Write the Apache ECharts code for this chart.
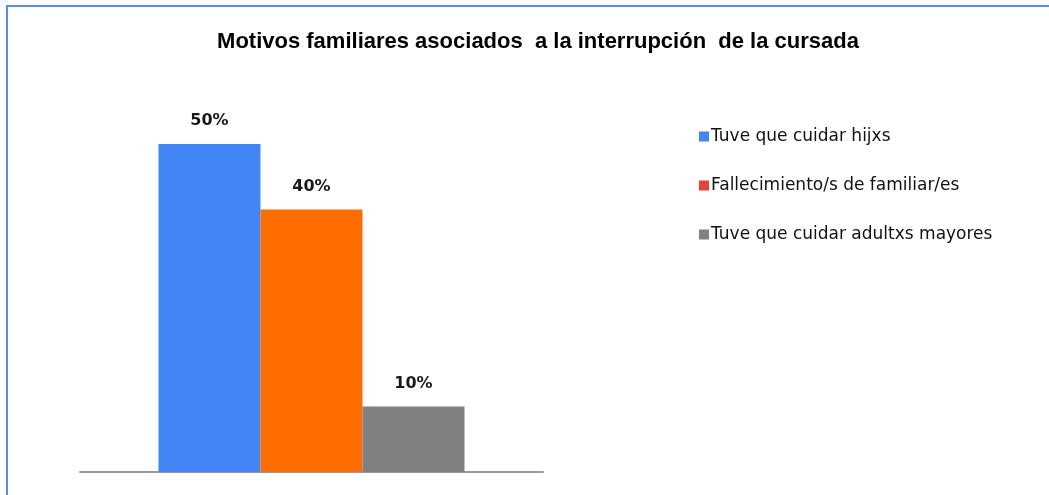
<!DOCTYPE html>
<html>
<head>
<meta charset="utf-8">
<script src="https://cdn.jsdelivr.net/npm/echarts@6/dist/echarts.min.js"></script>
<style>
  html, body { margin: 0; padding: 0; background: #fff; }
  #main { width: 1049px; height: 495px; }
</style>
</head>
<body>
<div id="main"></div>
<script>
// datos del gráfico
var categorias = ['Motivos'];
var motivos = ['Tuve que cuidar hijxs', 'Fallecimiento/s de familiar/es', 'Tuve que cuidar adultxs mayores'];
var porcentajes = [50, 40, 10];
var coloresBarra = ['#4285F4', '#FF6D00', '#808080'];
var coloresLeyenda = ['#4285F4', '#EA4335', '#808080'];

var chart = echarts.init(document.getElementById('main'));

var series = motivos.map(function (nombre, i) {
    return {
        name: nombre,
        type: 'bar',
        barWidth: 102,
        barGap: '0%',
        data: [porcentajes[i]],
        itemStyle: { color: coloresBarra[i] },
        label: {
            show: true,
            position: 'top',
            distance: 15,
            formatter: '{c}%',
            fontFamily: 'DejaVu Sans',
            fontWeight: 'bold',
            fontSize: 16,
            color: '#1a1a1a'
        }
    };
});

var option = {
    animation: false,
    title: {
        text: 'Motivos familiares asociados  a la interrupción  de la cursada',
        left: 533,
        textAlign: 'center',
        top: 26,
        textStyle: {
            fontFamily: 'Liberation Sans',
            fontWeight: 'bold',
            fontSize: 22,
            color: '#000'
        }
    },
    legend: {
        orient: 'vertical',
        left: 694,
        top: 123,
        itemWidth: 10,
        itemHeight: 10,
        itemGap: 32,
        icon: 'rect',
        textStyle: {
            fontFamily: 'DejaVu Sans',
            fontSize: 17,
            color: '#111',
            padding: [0, 0, 0, -3]
        },
        data: motivos.map(function (m, i) {
            return { name: m, itemStyle: { color: coloresLeyenda[i] } };
        })
    },
    graphic: [{
        type: 'rect',
        shape: { x: 7, y: 6, width: 1100, height: 600 },
        style: { fill: 'none', stroke: '#5B8EEB', lineWidth: 2 },
        silent: true
    }],
    grid: {
        left: 80,
        width: 463,
        top: 78.4,
        bottom: 23
    },
    xAxis: {
        type: 'category',
        data: categorias,
        axisLine: { lineStyle: { color: '#999', width: 2 } },
        axisTick: { show: false },
        axisLabel: { show: false }
    },
    yAxis: {
        type: 'value',
        min: 0,
        max: 60,
        show: false,
        splitLine: { show: false }
    },
    series: series
};

chart.setOption(option);

window.addEventListener('resize', function () {
    chart.resize();
});
</script>
</body>
</html>
